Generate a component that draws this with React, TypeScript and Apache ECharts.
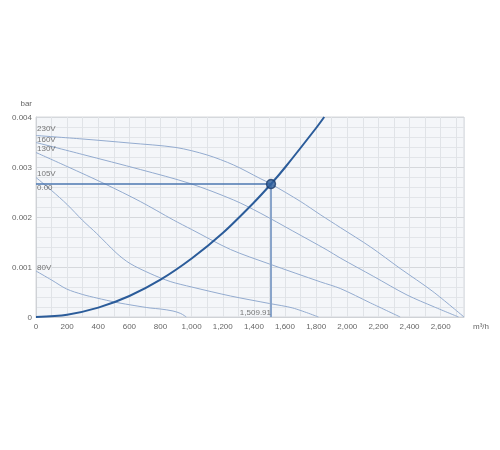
import React, { useEffect, useRef } from 'react';
import * as echarts from 'echarts';

const xMax = 2750;
const yMax = 0.004;
const xUnit = 'm³/h';
const yUnit = 'bar';

const curveNames = ['230V', '160V', '130V', '105V', '80V'];
const v230 = [[0, 0.00363], [300, 0.00356], [600, 0.00348], [900, 0.00339], [1100, 0.00324], [1270, 0.00304], [1440, 0.00277], [1510, 0.00266], [1700, 0.00231], [1830, 0.00204], [1955, 0.00179], [2150, 0.0014], [2340, 0.00097], [2550, 0.00051], [2750, 0]];
const v160 = [[0, 0.00349], [300, 0.00325], [670, 0.00295], [990, 0.00267], [1270, 0.00234], [1440, 0.00208], [1650, 0.00172], [1870, 0.00134], [1955, 0.00118], [2170, 0.00081], [2384, 0.00044], [2560, 0.0002], [2715, 0]];
const v130 = [[0, 0.00329], [200, 0.00301], [444, 0.00266], [670, 0.00231], [883, 0.00194], [1000, 0.00175], [1250, 0.00135], [1500, 0.00106], [1830, 0.0007], [1955, 0.00057], [2150, 0.00028], [2340, 0]];
const v105 = [[0, 0.00279], [100, 0.00253], [200, 0.00225], [300, 0.00193], [390, 0.00167], [520, 0.00127], [604, 0.00107], [733, 0.00087], [862, 0.00071], [1000, 0.0006], [1250, 0.00042], [1500, 0.00027], [1650, 0.00018], [1815, 0]];
const v80 = [[0, 0.00092], [100, 0.00074], [197, 0.00056], [300, 0.00045], [390, 0.00038], [520, 0.00029], [630, 0.00023], [733, 0.00018], [800, 0.00016], [880, 0.00012], [930, 0.00007], [966, 0]];
const fanCurves = [v230, v160, v130, v105, v80];

const systemCurve = [[0, 0], [200, 0.0000467], [400, 0.000187], [600, 0.00042], [800, 0.000747], [1000, 0.00117], [1200, 0.00168], [1400, 0.00229], [1509.91, 0.00266], [1600, 0.00299], [1800, 0.00378], [1852, 0.004]];

const opFlow = 1509.91;
const opPressure = 0.00266;

const FONT = '"Liberation Sans", Arial, sans-serif';
const labelShiftY = [-1.7, 2.3, 1.3, 1.3, 1.1];

export default function App() {
  const ref = useRef<HTMLDivElement>(null);
  useEffect(() => {
    const chart = echarts.init(ref.current!, null, { renderer: 'svg' });
    const fanSeries = fanCurves.map((d, i) => ({
      type: 'line',
      name: curveNames[i],
      data: d,
      smooth: 0.3,
      showSymbol: false,
      symbol: 'none',
      silent: true,
      z: 2,
      lineStyle: { color: '#93abcf', width: 1 },
    }));
    const baseLabel = { show: true, fontSize: 8, lineHeight: 8, color: '#555', fontFamily: FONT };
    const labelPoints: any[] = fanCurves.map((d, i) => ({
      value: d[0],
      label: {
        ...baseLabel,
        formatter: curveNames[i],
        position: 'top',
        align: 'left',
        distance: 1,
        offset: [1, labelShiftY[i]],
      },
    }));
    labelPoints.push({
      value: [0, opPressure],
      label: {
        ...baseLabel,
        formatter: opPressure.toFixed(2),
        position: 'bottom',
        align: 'left',
        distance: 1,
        offset: [1, -1.9],
      },
    });
    labelPoints.push({
      value: [opFlow, 0],
      label: {
        ...baseLabel,
        formatter: opFlow.toLocaleString('en-US', { minimumFractionDigits: 2, maximumFractionDigits: 2 }),
        position: 'top',
        align: 'right',
        distance: 1,
        offset: [0, 0],
      },
    });

    chart.setOption({
      animation: false,
      grid: {
        left: 36,
        right: 36,
        top: 117,
        bottom: 133,
        show: true,
        backgroundColor: '#f4f6f9',
        borderColor: '#d6d9dd',
        borderWidth: 1,
      },
      xAxis: {
        type: 'value',
        min: 0,
        max: xMax,
        interval: 100,
        name: xUnit,
        nameLocation: 'end',
        nameGap: 9,
        nameTextStyle: { color: '#666', fontSize: 8, fontFamily: FONT, verticalAlign: 'top', padding: [5, 0, 0, 0] },
        axisLine: { show: true, lineStyle: { color: '#cfd2d6', width: 1 } },
        axisTick: { show: false },
        axisLabel: {
          color: '#666',
          fontSize: 8,
          fontFamily: FONT,
          margin: 5,
          showMaxLabel: false,
          formatter: (v: number) => (Math.round(v) % 200 === 0 ? Math.round(v).toLocaleString('en-US') : ''),
        },
        splitLine: { show: true, lineStyle: { color: '#e0e3e7', width: 1 } },
      },
      yAxis: {
        type: 'value',
        min: 0,
        max: yMax,
        interval: 0.001,
        name: yUnit,
        nameLocation: 'end',
        nameGap: 10,
        nameTextStyle: { color: '#666', fontSize: 8, fontFamily: FONT, align: 'right', padding: [0, 4, 0, 0] },
        axisLine: { show: true, lineStyle: { color: '#cfd2d6', width: 1 } },
        axisTick: { show: false },
        axisLabel: {
          color: '#666',
          fontSize: 8,
          fontFamily: FONT,
          margin: 4,
          formatter: (v: number) => (v === 0 ? '0' : v.toFixed(3)),
        },
        splitLine: { show: true, lineStyle: { color: '#d5d8dc', width: 1 } },
        minorTick: { show: false, splitNumber: 5 },
        minorSplitLine: { show: true, lineStyle: { color: '#e2e5e9', width: 1 } },
      },
      series: [
        ...fanSeries,
        {
          type: 'line',
          name: 'system',
          data: systemCurve,
          smooth: 0.3,
          showSymbol: false,
          symbol: 'none',
          silent: true,
          z: 4,
          lineStyle: { color: '#2b5c9a', width: 2 },
          markLine: {
            silent: true,
            symbol: ['none', 'none'],
            label: { show: false },
            z: 3,
            data: [
              [
                { coord: [0, opPressure], lineStyle: { color: '#4d77b0', width: 1.5, type: 'solid' } },
                { coord: [opFlow, opPressure] },
              ],
              [
                { coord: [opFlow, opPressure], lineStyle: { color: '#89a4ca', width: 2, type: 'solid' } },
                { coord: [opFlow, 0] },
              ],
            ],
          },
        },
        {
          type: 'scatter',
          name: 'operating point',
          data: [[opFlow, opPressure]],
          symbol: 'circle',
          symbolSize: 9,
          z: 6,
          silent: true,
          itemStyle: { color: '#2f609e', borderColor: '#1b3c6c', borderWidth: 1.5 },
        },
        {
          type: 'scatter',
          name: 'labels',
          data: labelPoints,
          symbolSize: 0,
          silent: true,
          z: 7,
          clip: false,
        },
      ],
    });
    return () => chart.dispose();
  }, []);
  return <div ref={ref} style={{ position: 'fixed', left: 0, top: 0, width: 500, height: 450 }} />;
}
